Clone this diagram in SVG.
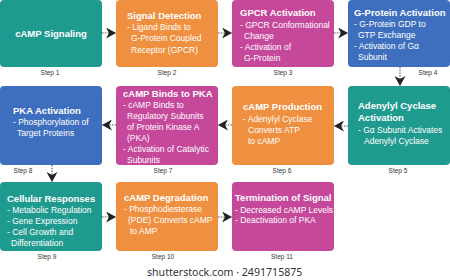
<svg xmlns="http://www.w3.org/2000/svg" width="450" height="280" viewBox="0 0 450 280">
<style>
.teal{fill:#1F9A8E}.orange{fill:#EE903F}.mag{fill:#C6489B}.blue{fill:#3E6EBE}
text{font-family:"Liberation Sans",Arial,sans-serif;fill:#fff}
.t{font-size:9.5px;font-weight:bold}
.b{font-size:8.5px}
.s{font-size:6.5px;fill:#333;text-anchor:middle}
.w{font-family:"Noto Sans","Open Sans",sans-serif;font-size:10.6px;fill:#333}
.c{stroke:#8a8a8a;stroke-width:1.6;stroke-dasharray:1.5 1.2;fill:none;marker-end:url(#ah)}
</style>
<defs>
<marker id="ah" markerUnits="userSpaceOnUse" markerWidth="10" markerHeight="11" viewBox="0 0 10 11" refX="10" refY="5.5" orient="auto">
<path d="M0,0 L10,5.5 L0,11 L3,5.5 Z" fill="#222"/>
</marker>
</defs>
<rect width="450" height="280" fill="#fff"/>

<g id="connectors">
<line class="c" x1="102" y1="33" x2="116" y2="33"/>
<line class="c" x1="218" y1="33" x2="232" y2="33"/>
<line class="c" x1="334" y1="33" x2="348" y2="33"/>
<line class="c" x1="400" y1="67" x2="400" y2="86"/>
<line class="c" x1="348" y1="126" x2="334" y2="126"/>
<line class="c" x1="232" y1="125" x2="218" y2="125"/>
<line class="c" x1="116" y1="125" x2="102" y2="125"/>
<line class="c" x1="52" y1="165" x2="52" y2="182"/>
<line class="c" x1="102" y1="217" x2="116" y2="217"/>
<line class="c" x1="218" y1="217" x2="232" y2="217"/>
</g>

<g id="step1">
<rect class="teal" x="0" y="0" width="102" height="67" rx="4"/>
<text class="t" x="51" y="37" text-anchor="middle">cAMP Signaling</text>
<text class="s" x="50" y="75">Step 1</text>
</g>

<g id="step2">
<rect class="orange" x="116" y="0" width="102" height="67" rx="4"/>
<text class="t" x="127" y="19">Signal Detection</text>
<text class="b" x="127" y="29.5">- Ligand Binds to</text>
<text class="b" x="131" y="41">G-Protein Coupled</text>
<text class="b" x="131" y="52.5">Receptor (GPCR)</text>
<text class="s" x="167" y="75">Step 2</text>
</g>

<g id="step3">
<rect class="mag" x="232" y="0" width="102" height="67" rx="4"/>
<text class="t" x="240" y="16">GPCR Activation</text>
<text class="b" x="240" y="27.5">- GPCR Conformational</text>
<text class="b" x="244" y="38.5">Change</text>
<text class="b" x="240" y="49.5">- Activation of</text>
<text class="b" x="244" y="60.5">G-Protein</text>
<text class="s" x="283" y="75">Step 3</text>
</g>

<g id="step4">
<rect class="blue" x="348" y="0" width="102" height="67" rx="4"/>
<text class="t" x="354" y="15.5">G-Protein Activation</text>
<text class="b" x="354" y="26.5">- G-Protein GDP to</text>
<text class="b" x="358" y="37.5">GTP Exchange</text>
<text class="b" x="354" y="48.5">- Activation of Gα</text>
<text class="b" x="358" y="59.5">Subunit</text>
<text class="s" x="428" y="75">Step 4</text>
</g>

<g id="step5">
<rect class="teal" x="348" y="86" width="102" height="79" rx="4"/>
<text class="t" x="358" y="109">Adenylyl Cyclase</text>
<text class="t" x="358" y="121">Activation</text>
<text class="b" x="358" y="132.5">- Gα Subunit Activates</text>
<text class="b" x="364" y="143.5">Adenylyl Cyclase</text>
<text class="s" x="398" y="173">Step 5</text>
</g>

<g id="step6">
<rect class="orange" x="232" y="86" width="102" height="79" rx="4"/>
<text class="t" x="243" y="110">cAMP Production</text>
<text class="b" x="243" y="121.5">- Adenylyl Cyclase</text>
<text class="b" x="248" y="132.5">Converts ATP</text>
<text class="b" x="248" y="143.5">to cAMP</text>
<text class="s" x="282" y="173">Step 6</text>
</g>

<g id="step7">
<rect class="mag" x="116" y="86" width="102" height="79" rx="4"/>
<text class="t" x="123" y="96.5">cAMP Binds to PKA</text>
<text class="b" x="123" y="108">- cAMP Binds to</text>
<text class="b" x="127" y="119">Regulatory Subunits</text>
<text class="b" x="127" y="130">of Protein Kinase A</text>
<text class="b" x="127" y="141">(PKA)</text>
<text class="b" x="123" y="152">- Activation of Catalytic</text>
<text class="b" x="127" y="163">Subunits</text>
<text class="s" x="163" y="173">Step 7</text>
</g>

<g id="step8">
<rect class="blue" x="0" y="86" width="102" height="79" rx="4"/>
<text class="t" x="13" y="113.5">PKA Activation</text>
<text class="b" x="13" y="125">- Phosphorylation of</text>
<text class="b" x="17" y="136">Target Proteins</text>
<text class="s" x="23" y="173">Step 8</text>
</g>

<g id="step9">
<rect class="teal" x="0" y="182" width="102" height="69" rx="4"/>
<text class="t" x="7" y="201.5">Cellular Responses</text>
<text class="b" x="7" y="212.5">- Metabolic Regulation</text>
<text class="b" x="7" y="223.5">- Gene Expression</text>
<text class="b" x="7" y="234.5">- Cell Growth and</text>
<text class="b" x="11" y="245.5">Differentiation</text>
<text class="s" x="47" y="259">Step 9</text>
</g>

<g id="step10">
<rect class="orange" x="116" y="182" width="102" height="69" rx="4"/>
<text class="t" x="124" y="201">cAMP Degradation</text>
<text class="b" x="124" y="211.5">- Phosphodiesterase</text>
<text class="b" x="128" y="222.5">(PDE) Converts cAMP</text>
<text class="b" x="130" y="233.5">to AMP</text>
<text class="s" x="163" y="259">Step 10</text>
</g>

<g id="step11">
<rect class="mag" x="232" y="182" width="102" height="69" rx="4"/>
<text class="t" x="235" y="201">Termination of Signal</text>
<text class="b" x="235" y="212.5">- Decreased cAMP Levels</text>
<text class="b" x="235" y="222.5">- Deactivation of PKA</text>
<text class="s" x="282" y="259">Step 11</text>
</g>

<text class="w" x="147" y="276">shutterstock.com · 2491715875</text>
</svg>
